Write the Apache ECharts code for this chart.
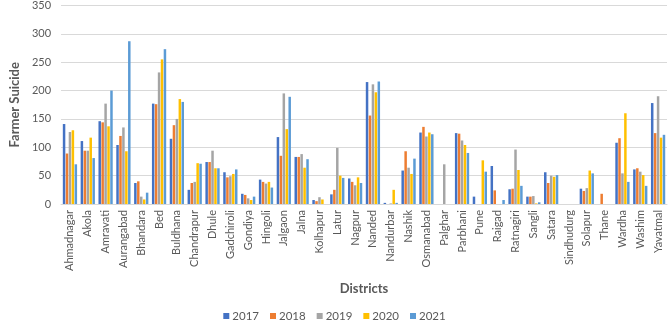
<!DOCTYPE html>
<html>
<head>
<meta charset="utf-8">
<script src="https://cdn.jsdelivr.net/npm/echarts@6/dist/echarts.min.js"></script>
<style>
  html, body { margin: 0; padding: 0; background: #fff; }
  #main { width: 669px; height: 326px; }
</style>
</head>
<body>
<div id="main"></div>
<script>
var districts = [
    'Ahmadnagar', 'Akola', 'Amravati', 'Aurangabad', 'Bhandara', 'Bed',
    'Buldhana', 'Chandrapur', 'Dhule', 'Gadchiroli', 'Gondiya', 'Hingoli',
    'Jalgaon', 'Jalna', 'Kolhapur', 'Latur', 'Nagpur', 'Nanded', 'Nandurbar',
    'Nashik', 'Osmanabad', 'Palghar', 'Parbhani', 'Pune', 'Raigad',
    'Ratnagiri', 'Sangli', 'Satara', 'Sindhudurg', 'Solapur', 'Thane',
    'Wardha', 'Washim', 'Yavatmal'
];

var years = ['2017', '2018', '2019', '2020', '2021'];

var y2017 = [141, 111, 146, 104, 37, 177, 115, 25, 74, 56, 18, 43, 118, 83, 7, 17, 45, 215, 2, 59, 126, 0, 125, 13, 67, 26, 13, 56, 0, 27, 0, 108, 61, 178];
var y2018 = [89, 94, 144, 120, 40, 176, 139, 37, 74, 47, 16, 39, 85, 83, 5, 25, 39, 156, 0, 93, 136, 0, 124, 0, 24, 27, 13, 37, 0, 23, 18, 116, 63, 125];
var y2019 = [127, 94, 177, 135, 13, 232, 150, 39, 94, 49, 10, 36, 195, 88, 12, 99, 33, 211, 1, 64, 119, 70, 112, 0, 0, 96, 14, 50, 0, 28, 0, 54, 57, 190];
var y2020 = [130, 117, 137, 93, 8, 255, 185, 72, 63, 53, 7, 39, 132, 64, 8, 50, 47, 197, 25, 53, 126, 0, 104, 77, 0, 60, 1, 48, 0, 59, 0, 160, 51, 117];
var y2021 = [70, 81, 200, 287, 20, 273, 180, 71, 63, 61, 13, 29, 189, 79, 0, 46, 37, 216, 2, 80, 123, 0, 90, 57, 7, 32, 3, 51, 0, 54, 0, 39, 32, 122];

var colors = ['#4472C4', '#ED7D31', '#A5A5A5', '#FFC000', '#5B9BD5'];
var values = [y2017, y2018, y2019, y2020, y2021];

var myChart = echarts.init(document.getElementById('main'));

var series = [];
for (var i = 0; i < years.length; i++) {
    series.push({
        name: years[i],
        type: 'bar',
        data: values[i],
        barGap: '18%',
        barCategoryGap: '20%',
        itemStyle: { color: colors[i] }
    });
}

var option = {
    animation: false,
    color: colors,
    textStyle: { fontFamily: 'Lato' },
    grid: {
        left: 50,
        right: 2,
        top: 5,
        bottom: 122
    },
    legend: {
        data: years,
        bottom: -1,
        left: 'center',
        itemWidth: 6,
        itemHeight: 6,
        itemGap: 11,
        icon: 'rect',
        textStyle: { color: '#595959', fontSize: 11.5, fontFamily: 'Lato', padding: [0, 0, 0, -2] }
    },
    xAxis: {
        type: 'category',
        data: districts,
        name: 'Districts',
        nameLocation: 'middle',
        nameGap: 78,
        nameTextStyle: { color: '#595959', fontSize: 13, fontWeight: 'bold', fontFamily: 'Lato' },
        axisLine: { lineStyle: { color: '#d9d9d9' } },
        axisTick: { show: false },
        axisLabel: {
            rotate: 90,
            interval: 0,
            color: '#595959',
            fontSize: 11,
            margin: 6,
            fontFamily: 'Lato'
        }
    },
    yAxis: {
        type: 'value',
        min: 0,
        max: 350,
        interval: 50,
        name: 'Farmer Suicide',
        nameLocation: 'middle',
        nameGap: 30,
        nameTextStyle: { color: '#595959', fontSize: 13, fontWeight: 'bold', fontFamily: 'Lato' },
        axisLine: { show: false },
        axisTick: { show: false },
        axisLabel: { color: '#595959', fontSize: 11, margin: 10, fontFamily: 'Lato' },
        splitLine: { lineStyle: { color: '#d9d9d9' } }
    },
    series: series
};

myChart.setOption(option);
</script>
</body>
</html>
